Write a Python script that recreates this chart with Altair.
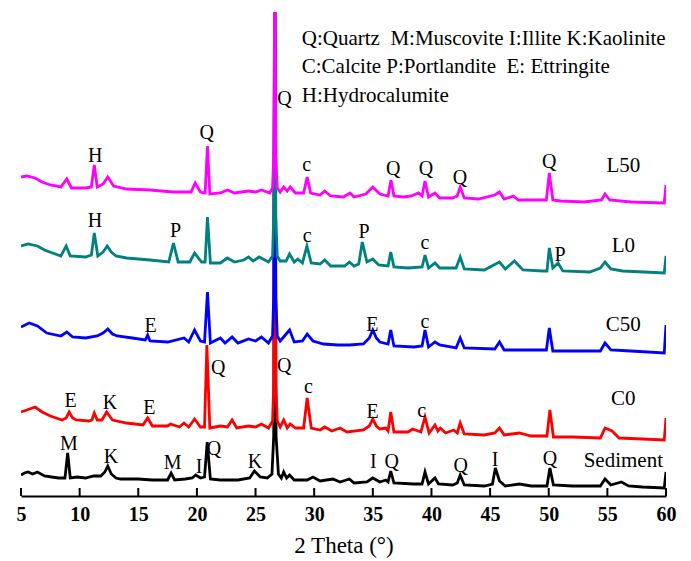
import altair as alt
import pandas as pd

FONT = "Liberation Serif"

# XRD patterns: (2 theta, stacked intensity a.u.)
sediment = [(5.0,21),(5.3,23),(5.6,24),(6.0,22),(6.4,24),(7.0,20),(7.6,19),(8.2,18),(8.75,18),(8.98,43),(9.2,18),(9.8,19),
            (10.5,18),(11.2,20),(11.8,20),(12.15,24),(12.4,30),(12.7,22),(13.1,18),(13.5,17),(15.0,17),(16.2,16),(17.5,16),
            (17.8,23),(18.1,16),(19.0,17),(19.6,18),(19.9,21),(20.3,18),(20.65,19),(20.88,54),(21.15,17),(22.0,16),(23.5,16),
            (24.5,18),(24.9,25),(25.4,19),(26.0,18),(26.4,22),(26.55,60),(26.64,520),(26.75,60),(26.95,22),(27.2,18),(27.4,24),
            (27.65,18),(27.9,21),(28.3,16),(29.4,16),(29.9,19),(30.5,15),(31.6,17),(32.2,14),(33.0,17),(33.4,13),(34.5,14),
            (35.0,18),(35.6,14),(36.1,16),(36.3,14),(36.53,25),(36.8,13),(38.5,12),(39.2,12),(39.45,24),(39.75,12),(40.3,18),
            (40.6,12),(41.8,11),(42.2,13),(42.45,21),(42.8,11),(44.5,10),(45.2,12),(45.45,28),(45.8,15),(46.3,10),(47.5,12),
            (48.5,10),(49.85,10),(50.1,28),(50.4,11),(52.0,10),(54.4,10),(54.8,17),(55.3,11),(56.2,14),(56.8,10),(58.0,9),
            (59.85,8),(60.0,24)]

c0 = [(5.0,84),(5.5,86),(6.2,89),(6.8,84),(7.5,80),(8.5,76),(8.85,78),(9.1,84),(9.4,78),(9.7,76),(10.8,75),(11.05,76),
      (11.25,83),(11.5,76),(11.9,76),(12.3,84),(12.8,76),(14.0,73),(15.4,71),(15.8,78),(16.2,70),(17.5,70),(17.75,72),
      (18.5,69),(18.9,73),(19.3,69),(19.8,77),(20.3,69),(20.65,69),(20.85,151),(21.1,68),(22.0,70),(22.6,69),(23.0,76),
      (23.4,68),(24.4,70),(25.0,69),(25.5,72),(26.1,68),(26.45,75),(26.55,110),(26.64,520),(26.73,110),(26.85,75),(27.1,69),
      (27.4,76),(27.7,68),(27.95,72),(28.4,68),(29.1,68),(29.4,98),(29.75,68),(30.5,66),(30.9,69),(31.5,65),(32.2,68),
      (32.8,64),(34.2,66),(34.7,70),(35.0,77),(35.3,70),(35.6,67),(36.1,68),(36.3,65),(36.53,84),(36.8,64),(38.0,64),
      (38.4,67),(39.1,64),(39.45,79),(39.8,63),(40.3,71),(40.55,65),(40.75,68),(41.2,63),(41.9,66),(42.2,63),(42.45,73),
      (42.8,62),(44.5,61),(45.4,63),(45.8,68),(46.2,61),(47.5,63),(48.5,60),(49.85,60),(50.1,86),(50.4,59),(52.0,59),
      (54.4,58),(54.8,68),(55.4,65),(56.0,58),(58.0,57),(59.85,56),(60.0,78)]

c50 = [(5.0,169),(5.7,173),(6.4,170),(7.2,163),(8.4,160),(8.9,164),(9.4,159),(10.5,158),(11.5,160),(12.0,163),(12.4,167),
       (12.8,162),(13.2,160),(14.5,158),(15.6,156),(15.8,161),(16.0,155),(17.5,154),(18.9,158),(19.3,154),(19.8,166),
       (20.3,155),(20.65,154),(20.9,204),(21.15,153),(22.0,158),(22.4,153),(23.0,159),(23.5,153),(24.4,157),(25.0,155),
       (25.5,159),(26.1,153),(26.45,160),(26.55,200),(26.64,520),(26.73,200),(26.85,160),(27.1,155),(27.9,166),(28.3,154),
       (29.0,155),(29.4,162),(29.9,155),(30.8,152),(32.0,151),(33.0,151),(34.2,152),(34.7,158),(35.0,166),(35.3,158),
       (35.6,154),(36.3,152),(36.53,166),(36.8,150),(38.5,149),(39.2,150),(39.45,166),(39.75,149),(40.3,154),(40.7,151),
       (42.1,148),(42.45,158),(42.8,148),(45.4,147),(45.8,154),(46.2,146),(49.8,146),(50.05,168),(50.35,145),(52.0,145),
       (54.4,145),(54.8,153),(55.3,146),(57.0,145),(59.85,143),(60.0,171)]

l0 = [(5.0,250),(5.6,252),(6.4,250),(7.0,246),(8.4,240),(8.85,250),(9.2,240),(10.5,239),(11.0,241),(11.25,263),(11.55,240),
      (12.0,244),(12.35,250),(12.7,244),(13.1,240),(14.0,238),(16.0,236),(17.6,234),(18.0,253),(18.4,234),(19.4,234),
      (19.8,243),(20.4,234),(20.7,234),(20.9,279),(21.15,233),(22.0,233),(22.6,238),(23.2,234),(24.0,236),(24.4,239),
      (24.8,235),(25.3,239),(26.1,234),(26.45,240),(26.55,280),(26.64,520),(26.73,280),(26.85,240),(27.1,235),(27.6,235),
      (27.9,242),(28.3,234),(28.6,237),(29.0,233),(29.38,250),(29.75,233),(30.5,232),(30.9,236),(31.4,230),(32.6,230),
      (33.0,234),(33.4,230),(33.8,232),(34.1,254),(34.5,234),(35.0,237),(35.5,231),(36.3,230),(36.53,244),(36.8,229),
      (38.0,228),(39.2,229),(39.45,241),(39.75,228),(40.3,233),(40.7,228),(42.1,228),(42.45,239),(42.8,227),(44.5,226),
      (45.8,234),(46.3,227),(47.07,235),(47.8,226),(49.5,225),(49.85,225),(50.05,248),(50.35,228),(50.8,233),(51.2,225),
      (53.5,224),(54.4,228),(54.8,234),(55.3,227),(56.3,225),(59.85,223),(60.0,240)]

l50 = [(5.0,319),(5.5,320),(6.2,318),(6.8,314),(7.5,311),(8.4,309),(8.9,317),(9.3,308),(10.5,308),(11.0,309),(11.25,331),
       (11.5,309),(12.0,312),(12.4,319),(12.9,310),(14.0,307),(16.0,306),(18.0,304),(19.5,304),(19.85,313),(20.3,304),
       (20.7,303),(20.9,350),(21.1,302),(22.0,303),(22.6,306),(23.2,303),(24.4,305),(25.0,304),(25.5,306),(26.2,303),
       (26.45,308),(26.55,340),(26.64,520),(26.73,340),(26.85,308),(27.1,304),(27.4,309),(27.7,305),(27.95,309),(28.4,303),
       (29.1,303),(29.4,319),(29.7,303),(30.5,301),(30.9,305),(31.4,300),(32.5,299),(33.05,303),(33.4,299),(34.4,302),
       (35.0,309),(35.6,302),(36.3,300),(36.55,316),(36.8,300),(37.6,299),(38.3,300),(38.9,303),(39.2,300),(39.45,315),
       (39.75,299),(40.3,303),(40.7,298),(41.8,298),(42.2,300),(42.45,309),(42.8,298),(44.0,297),(45.4,301),(45.8,304),
       (46.2,297),(47.0,300),(47.4,296),(49.0,296),(49.8,296),(50.05,323),(50.35,296),(51.0,295),(53.0,294),(54.5,296),
       (54.8,302),(55.2,296),(57.0,294),(59.85,293),(60.0,311)]

series_names = ["Sediment", "C0", "C50", "L0", "L50"]
series_colors = ["#000000", "#ff0000", "#0000ff", "#008080", "#ff00ff"]
series_label_theta = [56.36, 56.36, 56.36, 56.36, 56.36]
series_label_level = [28.7, 91, 165.3, 244.3, 324.3]

# peak annotations: (label, 2theta, level)
peak_labels = [
    ("H", 11.33, 334.3), ("Q", 20.83, 357), ("Q", 27.47, 391), ("c", 29.36, 325.3), ("Q", 36.75, 321),
    ("Q", 39.53, 321), ("Q", 42.43, 312), ("Q", 50.05, 328),
    ("H", 11.31, 268.7), ("P", 18.19, 258.7), ("c", 29.41, 254.3), ("P", 34.25, 257.7), ("c", 39.45, 246.7),
    ("P", 50.96, 235.3),
    ("E", 16.06, 164.3), ("E", 34.96, 165.3), ("c", 39.45, 168.3),
    ("E", 9.24, 89.3), ("K", 12.59, 86.7), ("E", 15.94, 82), ("Q", 21.82, 122), ("Q", 27.45, 124),
    ("c", 29.5, 102.7), ("E", 34.99, 78.3), ("c", 39.17, 78.7),
    ("M", 9.09, 46), ("K", 12.67, 32.7), ("M", 17.94, 26.7), ("I", 20.18, 23.3), ("Q", 21.46, 41),
    ("K", 24.95, 27.7), ("I", 35.04, 27.7), ("Q", 36.61, 28), ("Q", 42.49, 24), ("I", 45.42, 30), ("Q", 50.11, 31),
]

legend_lines = ["Q:Quartz\u00a0 M:Muscovite I:Illite K:Kaolinite",
                "C:Calcite P:Portlandite\u00a0 E: Ettringite",
                "H:Hydrocalumite"]
legend_theta = [28.94, 28.94, 28.94]
legend_level = [451, 422.7, 394.3]

tick_values = [5, 10, 15, 20, 25, 30, 35, 40, 45, 50, 55, 60]

xscale = alt.Scale(domain=[5, 60], nice=False, zero=False)
yscale = alt.Scale(domain=[0, 484], nice=False, zero=False)

x_axis = alt.Axis(values=tick_values, ticks=False, domain=True, domainColor="black", domainWidth=2,
                  labelFont=FONT, labelFontWeight="bold", labelFontSize=20, labelColor="black",
                  labelPadding=8, labelFlush=False, labelOverlap=False, grid=False,
                  title="2 Theta (°)", titleFont=FONT, titleFontSize=23, titleFontWeight="normal",
                  titleColor="black", titlePadding=10)

X = alt.X("theta:Q", scale=xscale, axis=x_axis)
Y = alt.Y("level:Q", scale=yscale, axis=None)

layers = []
tick_df = pd.DataFrame({"theta": tick_values})
layers.append(alt.Chart(tick_df).mark_rule(color="black", strokeWidth=2).encode(
    x=X, y=alt.value(484), y2=alt.value(476)))

for name, color, pts in zip(series_names, series_colors, [sediment, c0, c50, l0, l50]):
    df = pd.DataFrame(pts, columns=["theta", "level"])
    layers.append(alt.Chart(df).mark_line(color=color, strokeWidth=2.8, clip=True).encode(x=X, y=Y))

pk_df = pd.DataFrame(peak_labels, columns=["label", "theta", "level"])
layers.append(alt.Chart(pk_df).mark_text(font=FONT, fontSize=20, color="black", align="center",
                                         baseline="alphabetic").encode(x=X, y=Y, text="label:N"))

sr_df = pd.DataFrame({"label": series_names, "theta": series_label_theta, "level": series_label_level})
layers.append(alt.Chart(sr_df).mark_text(font=FONT, fontSize=21, color="black", align="center",
                                         baseline="alphabetic").encode(x=X, y=Y, text="label:N"))

lg_df = pd.DataFrame({"label": legend_lines, "theta": legend_theta, "level": legend_level})
layers.append(alt.Chart(lg_df).mark_text(font=FONT, fontSize=21, color="black", align="left",
                                         baseline="alphabetic").encode(x=X, y=Y, text="label:N"))

chart = alt.layer(*layers).properties(
    width=645, height=484,
    autosize=alt.AutoSizeParams(type="none"),
    padding={"left": 21, "top": 12, "right": 25, "bottom": 65},
    background="white",
).configure_view(stroke=None)

chart.save("out.html", embed_options={"renderer": "svg", "actions": False})
